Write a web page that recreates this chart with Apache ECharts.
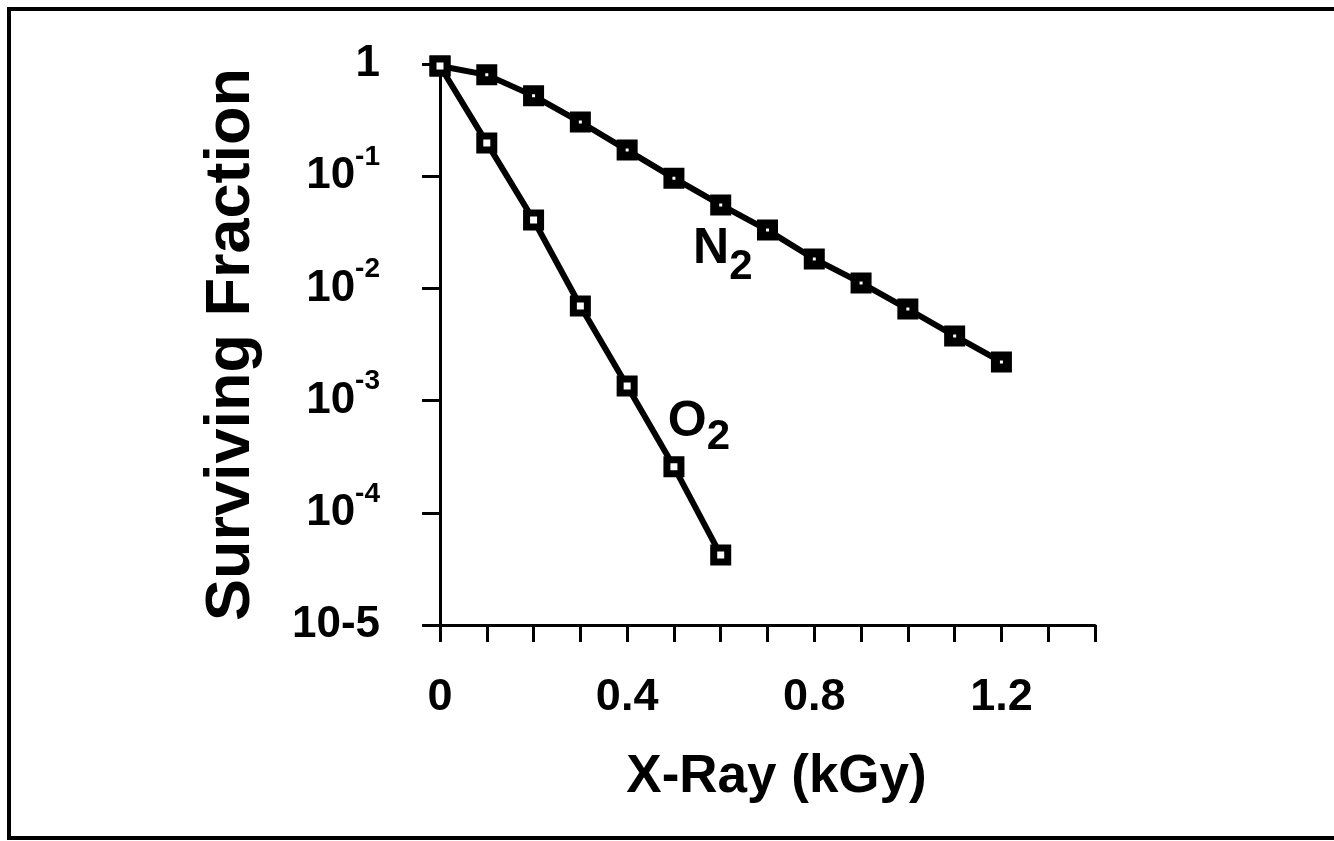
<!DOCTYPE html>
<html>
<head>
<meta charset="utf-8">
<script src="https://cdn.jsdelivr.net/npm/echarts@6/dist/echarts.min.js"></script>
<style>
html,body{margin:0;padding:0;background:#fff;}
#c{width:1334px;height:841px;}
</style>
</head>
<body>
<div id="c"></div>
<script>
// ---- data ----
const doseN2 = [0, 0.1, 0.2, 0.3, 0.4, 0.5, 0.6, 0.7, 0.8, 0.9, 1.0, 1.1, 1.2];
const survN2 = [0.96, 0.80, 0.52, 0.304, 0.171, 0.096, 0.0554, 0.0331, 0.0183, 0.0112, 0.00655, 0.00377, 0.00221];
const doseO2 = [0, 0.1, 0.2, 0.3, 0.4, 0.5, 0.6];
const survO2 = [0.96, 0.198, 0.0407, 0.00697, 0.00135, 0.000257, 0.000042];
const xTickValues = [0, 0.4, 0.8, 1.2];
const xTickLabels = ['0', '0.4', '0.8', '1.2'];
const yTickValues = [1, 1e-1, 1e-2, 1e-3, 1e-4, 1e-5];
const yTickLabels = ['1', '10|-1', '10|-2', '10|-3', '10|-4', '10-5'];
const seriesNames = ['N2', 'O2'];

const font = '"Liberation Sans", Arial, Helvetica, sans-serif';

function pair(xs, ys) { return xs.map((x, i) => [x, ys[i]]); }

const chart = echarts.init(document.getElementById('c'), null, {renderer: 'canvas'});

const option = {
  animation: false,
  backgroundColor: '#fff',
  graphic: [{
    type: 'polyline',
    shape: {points: [[1334, 9], [9, 9], [9, 838], [1334, 838]]},
    style: {fill: 'none', stroke: '#000', lineWidth: 4},
    silent: true
  }],
  grid: {left: 440, right: 239, top: 64, bottom: 216, containLabel: false},
  xAxis: {
    type: 'value',
    min: 0, max: 1.4, interval: 0.1,
    axisLine: {show: true, lineStyle: {color: '#000', width: 3}},
    axisTick: {show: true, length: 17, lineStyle: {color: '#000', width: 3}},
    splitLine: {show: false},
    axisLabel: {
      margin: 50,
      color: '#000',
      fontFamily: font, fontWeight: 'bold', fontSize: 45,
      formatter: function (v) {
        for (let i = 0; i < xTickValues.length; i++) {
          if (Math.abs(v - xTickValues[i]) < 1e-6) return xTickLabels[i];
        }
        return '';
      }
    },
    name: 'X-Ray (kGy)',
    nameLocation: 'middle',
    nameGap: 126,
    nameTextStyle: {color: '#000', fontFamily: font, fontWeight: 'bold', fontSize: 53, padding: [0, 0, 0, 18]}
  },
  yAxis: {
    type: 'log', logBase: 10,
    min: 1e-5, max: 1,
    axisLine: {show: true, lineStyle: {color: '#000', width: 3}},
    axisTick: {show: true, length: 18, lineStyle: {color: '#000', width: 3}},
    splitLine: {show: false},
    minorTick: {show: false},
    axisLabel: {
      margin: 60,
      color: '#000',
      fontFamily: font, fontWeight: 'bold', fontSize: 44,
      formatter: function (v) {
        for (let i = 0; i < yTickValues.length; i++) {
          if (Math.abs(Math.log10(v) - Math.log10(yTickValues[i])) < 1e-6) {
            const parts = yTickLabels[i].split('|');
            if (parts.length === 2) return '{b|' + parts[0] + '}{s|' + parts[1] + '}';
            return '{b|' + parts[0] + '}';
          }
        }
        return '';
      },
      rich: {
        b: {fontFamily: font, fontWeight: 'bold', fontSize: 44, color: '#000'},
        s: {fontFamily: font, fontWeight: 'bold', fontSize: 28, color: '#000', padding: [0, 0, 38, 0]}
      }
    },
    name: 'Surviving Fraction',
    nameLocation: 'middle',
    nameGap: 177,
    nameTextStyle: {color: '#000', fontFamily: font, fontWeight: 'bold', fontSize: 63}
  },
  series: [
    {
      name: seriesNames[0],
      type: 'line',
      data: pair(doseN2, survN2),
      symbol: 'rect', symbolSize: 12,
      lineStyle: {color: '#000', width: 6},
      itemStyle: {color: '#fff', borderColor: '#000', borderWidth: 9},
      z: 3,
      markPoint: {
        symbol: 'rect', symbolSize: 0,
        data: [{coord: [0.541, 0.0222]}],
        label: {
          show: true, position: 'right', distance: 0,
          formatter: '{a|N}{c|2}',
          rich: {
            a: {fontFamily: font, fontWeight: 'bold', fontSize: 50, color: '#000'},
            c: {fontFamily: font, fontWeight: 'bold', fontSize: 42, color: '#000', padding: [36, 0, 0, 0]}
          }
        }
      }
    },
    {
      name: seriesNames[1],
      type: 'line',
      data: pair(doseO2, survO2),
      symbol: 'rect', symbolSize: 14,
      lineStyle: {color: '#000', width: 6},
      itemStyle: {color: '#fff', borderColor: '#000', borderWidth: 7},
      z: 3,
      markPoint: {
        symbol: 'rect', symbolSize: 0,
        data: [{coord: [0.487, 6.4e-4]}],
        label: {
          show: true, position: 'right', distance: 0,
          formatter: '{a|O}{c|2}',
          rich: {
            a: {fontFamily: font, fontWeight: 'bold', fontSize: 50, color: '#000'},
            c: {fontFamily: font, fontWeight: 'bold', fontSize: 42, color: '#000', padding: [30, 0, 0, 0]}
          }
        }
      }
    }
  ]
};
chart.setOption(option);
</script>
</body>
</html>
